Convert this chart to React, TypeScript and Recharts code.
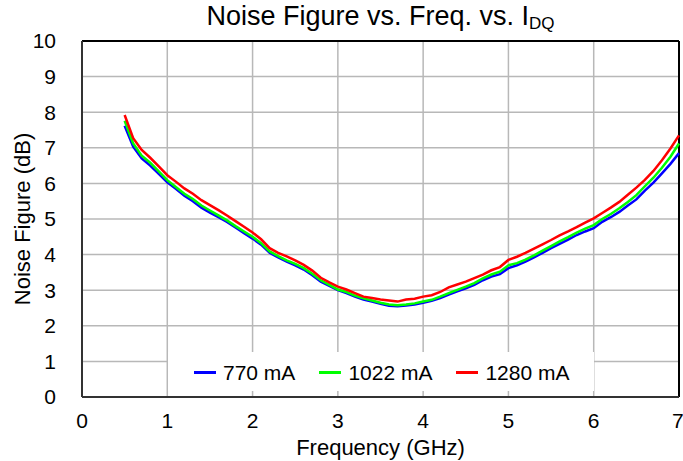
import { LineChart, Line, XAxis, YAxis, CartesianGrid, ReferenceLine, Label } from 'recharts'

const freqs = [
  0.5, 0.6, 0.7, 0.8, 0.9, 1.0, 1.1, 1.2, 1.3, 1.4, 1.5, 1.6, 1.7, 1.8, 1.9, 2.0, 2.1, 2.2, 2.3, 2.4, 2.5, 2.6,
  2.7, 2.8, 2.9, 3.0, 3.1, 3.2, 3.3, 3.4, 3.5, 3.6, 3.7, 3.8, 3.9, 4.0, 4.1, 4.2, 4.3, 4.4, 4.5, 4.6, 4.7, 4.8,
  4.9, 5.0, 5.1, 5.2, 5.3, 5.4, 5.5, 5.6, 5.7, 5.8, 5.9, 6.0, 6.1, 6.2, 6.3, 6.4, 6.5, 6.6, 6.7, 6.8, 6.9, 7.0,
]

const nf770 = [
  7.62, 7.03, 6.7, 6.5, 6.27, 6.03, 5.85, 5.65, 5.5, 5.32, 5.18, 5.05, 4.92, 4.76, 4.6, 4.45, 4.28, 4.05, 3.92, 3.8,
  3.7, 3.58, 3.42, 3.24, 3.12, 3.0, 2.92, 2.82, 2.74, 2.68, 2.62, 2.56, 2.55, 2.57, 2.6, 2.65, 2.7, 2.78, 2.88, 2.97,
  3.05, 3.15, 3.28, 3.38, 3.45, 3.62, 3.7, 3.8, 3.92, 4.05, 4.18, 4.3, 4.42, 4.55, 4.65, 4.74, 4.92, 5.05, 5.2, 5.38,
  5.55, 5.8, 6.02, 6.28, 6.55, 6.85,
]

const nf1022 = [
  7.76, 7.12, 6.78, 6.58, 6.34, 6.09, 5.9, 5.71, 5.56, 5.38, 5.24, 5.1, 4.96, 4.8, 4.65, 4.5, 4.32, 4.09, 3.96, 3.84,
  3.74, 3.62, 3.46, 3.28, 3.15, 3.02, 2.95, 2.85, 2.77, 2.71, 2.65, 2.6, 2.58, 2.6, 2.63, 2.68, 2.73, 2.82, 2.92, 3.01,
  3.1, 3.2, 3.33, 3.44, 3.52, 3.7, 3.76, 3.86, 3.98, 4.11, 4.24, 4.37, 4.49, 4.62, 4.73, 4.83, 5.0, 5.14, 5.3, 5.48,
  5.67, 5.92, 6.16, 6.44, 6.75, 7.12,
]

const nf1280 = [
  7.92, 7.27, 6.94, 6.72, 6.48, 6.23, 6.05, 5.86, 5.71, 5.53, 5.39, 5.25, 5.1, 4.94, 4.78, 4.62, 4.43, 4.18, 4.05, 3.95,
  3.84, 3.71, 3.55, 3.35, 3.22, 3.1, 3.02, 2.92, 2.82, 2.78, 2.74, 2.71, 2.68, 2.74, 2.76, 2.82, 2.86, 2.95, 3.08, 3.16,
  3.24, 3.34, 3.44, 3.56, 3.65, 3.85, 3.94, 4.05, 4.17, 4.29, 4.41, 4.54, 4.65, 4.77, 4.9, 5.02, 5.17, 5.32, 5.48, 5.68,
  5.88, 6.1, 6.35, 6.65, 6.98, 7.35,
]

const xTicks = [0, 1, 2, 3, 4, 5, 6, 7]
const yTicks = [0, 1, 2, 3, 4, 5, 6, 7, 8, 9, 10]

const series = [
  { key: 'a', name: '770 mA', color: '#0000ff' },
  { key: 'b', name: '1022 mA', color: '#00ff00' },
  { key: 'c', name: '1280 mA', color: '#ff0000' },
]

const data = freqs.map((f, i) => ({ f, a: nf770[i], b: nf1022[i], c: nf1280[i] }))

const font = '"Liberation Sans", Arial, sans-serif'

// legend sits inside the plot on a white box, like the original
function LegendBox() {
  return (
    <div style={{ position: 'absolute', left: 168, top: 352, width: 426, height: 39, display: 'flex', alignItems: 'center', background: '#fff', paddingLeft: 26, paddingTop: 2, fontSize: 21, color: '#000', boxSizing: 'border-box', whiteSpace: 'nowrap' }}>
      {series.map(s => (
        <div key={s.key} style={{ display: 'flex', alignItems: 'center', marginRight: 24, flexShrink: 0 }}>
          <span style={{ display: 'inline-block', width: 22, height: 2.5, background: s.color, marginRight: 7 }} />
          <span>{s.name}</span>
        </div>
      ))}
    </div>
  )
}

export default function App() {
  return (
    <div style={{ position: 'absolute', left: 0, top: 0, width: 683, height: 461, background: '#fff', fontFamily: font }}>
      <div style={{ position: 'absolute', top: 1, left: 82, width: 597, textAlign: 'center', fontSize: 27, color: '#000', whiteSpace: 'nowrap' }}>
        Noise Figure vs. Freq. vs. I<sub style={{ fontSize: 17, verticalAlign: -4 }}>DQ</sub>
      </div>
      <LineChart width={683} height={461} data={data} margin={{ top: 41, right: 4, bottom: 34, left: 22 }}>
        <CartesianGrid stroke="#b8b8b8" strokeWidth={1.5} />
        <XAxis
          dataKey="f"
          type="number"
          domain={[0, 7]}
          ticks={xTicks}
          height={30}
          tick={{ fill: '#000', fontSize: 21, fontFamily: font }}
          tickLine={false}
          tickMargin={10}
          axisLine={{ stroke: '#333', strokeWidth: 2 }}
        >
          <Label value="Frequency (GHz)" position="insideBottom" offset={-28} style={{ fill: '#000', fontSize: 22, fontFamily: font }} />
        </XAxis>
        <YAxis
          type="number"
          domain={[0, 10]}
          ticks={yTicks}
          width={60}
          tick={{ fill: '#000', fontSize: 21, fontFamily: font }}
          tickLine={false}
          tickMargin={20}
          axisLine={{ stroke: '#333', strokeWidth: 2 }}
        >
          <Label value="Noise Figure (dB)" angle={-90} position="insideLeft" offset={0} style={{ fill: '#000', fontSize: 22, fontFamily: font, textAnchor: 'middle' }} />
        </YAxis>
        <ReferenceLine y={10} stroke="#000" strokeWidth={2} />
        <ReferenceLine x={7} stroke="#000" strokeWidth={2} />
        {series.map(s => (
          <Line key={s.key} dataKey={s.key} name={s.name} stroke={s.color} strokeWidth={2.5} dot={false} isAnimationActive={false} />
        ))}
      </LineChart>
      <LegendBox />
    </div>
  )
}
